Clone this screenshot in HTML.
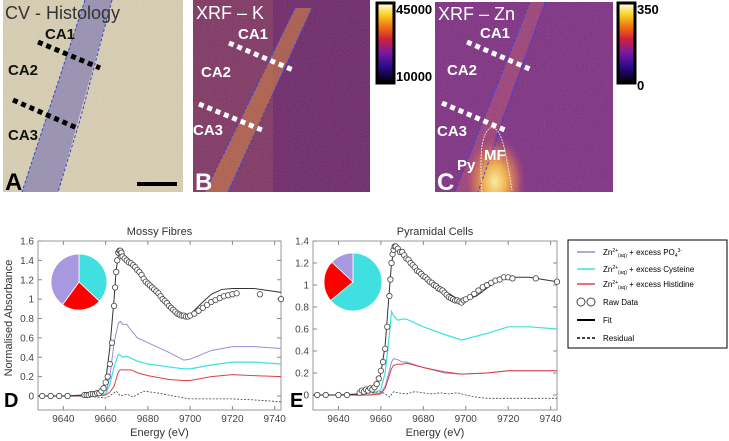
<!DOCTYPE html>
<html><head><meta charset="utf-8">
<style>
html,body{margin:0;padding:0;background:#fff;}
svg{display:block;font-family:"Liberation Sans",Arial,sans-serif;}
</style></head>
<body>
<svg id="fig" width="729" height="441" viewBox="0 0 729 441" xmlns="http://www.w3.org/2000/svg">
<defs>
<linearGradient id="cbar" x1="0" y1="1" x2="0" y2="0">
<stop offset="0" stop-color="#000"/><stop offset="0.2" stop-color="#2a0a8a"/><stop offset="0.38" stop-color="#7a1aa0"/>
<stop offset="0.55" stop-color="#d0203a"/><stop offset="0.7" stop-color="#f07010"/><stop offset="0.85" stop-color="#f8d020"/><stop offset="1" stop-color="#fffff0"/>
</linearGradient>
<radialGradient id="blob" cx="0.5" cy="0.6" r="0.5">
<stop offset="0" stop-color="#fff2a0"/><stop offset="0.35" stop-color="#f8b040"/><stop offset="0.7" stop-color="#d06050" stop-opacity="0.7"/><stop offset="1" stop-color="#8a2a80" stop-opacity="0"/>
</radialGradient>
<clipPath id="clipC"><rect x="435" y="2" width="178" height="190"/></clipPath>
<filter id="noise"><feTurbulence type="fractalNoise" baseFrequency="0.9" numOctaves="1" seed="3"/><feColorMatrix type="saturate" values="0"/><feComponentTransfer><feFuncA type="table" tableValues="0 0.25"/></feComponentTransfer><feComposite in2="SourceGraphic" operator="in"/></filter>
</defs>

<!-- Panel A -->
<g>
<rect x="3" y="0" width="180" height="192" fill="#d9cfb2"/>
<polygon points="85,0 112,0 58,192 22,192" fill="#8a84b0" opacity="0.85"/>
<polyline points="85,0 22,192" fill="none" stroke="#2233dd" stroke-dasharray="3,2" stroke-width="1"/>
<polyline points="112,0 80,120 58,192" fill="none" stroke="#2233dd" stroke-dasharray="3,2" stroke-width="1"/>
<rect x="3" y="0" width="180" height="192" fill="#fff" filter="url(#noise)"/>
<text x="5" y="19" font-size="18" fill="#333">CV - Histology</text>
<line x1="38" y1="42" x2="100" y2="68" stroke="#000" stroke-width="5" stroke-dasharray="5,4"/>
<line x1="13" y1="100" x2="77" y2="128" stroke="#000" stroke-width="5" stroke-dasharray="5,4"/>
<text x="45" y="39" font-size="15" font-weight="bold" fill="#111">CA1</text>
<text x="8" y="75" font-size="15" font-weight="bold" fill="#111">CA2</text>
<text x="8" y="140" font-size="15" font-weight="bold" fill="#111">CA3</text>
<line x1="137" y1="184" x2="177" y2="184" stroke="#000" stroke-width="4"/>
<text x="5" y="190" font-size="24" font-weight="bold" fill="#000">A</text>
</g>

<!-- Panel B -->
<g>
<rect x="193" y="0" width="177" height="192" fill="#6a2266"/>
<rect x="193" y="0" width="80" height="192" fill="#8a3a5a" opacity="0.6"/>
<polygon points="295,8 312,8 228,192 205,192" fill="#c06a40" opacity="0.75"/>
<polyline points="295,8 205,192" fill="none" stroke="#2233ee" stroke-dasharray="3,2"/>
<polyline points="312,8 228,192" fill="none" stroke="#2233ee" stroke-dasharray="3,2"/>
<rect x="193" y="0" width="177" height="192" fill="#fff" filter="url(#noise)"/>
<text x="196" y="19" font-size="18" fill="#fff">XRF – K</text>
<line x1="229" y1="43" x2="293" y2="70" stroke="#fff" stroke-width="5" stroke-dasharray="5,4"/>
<line x1="199" y1="104" x2="262" y2="130" stroke="#fff" stroke-width="5" stroke-dasharray="5,4"/>
<text x="238" y="39" font-size="15" font-weight="bold" fill="#fff">CA1</text>
<text x="201" y="77" font-size="15" font-weight="bold" fill="#fff">CA2</text>
<text x="193" y="135" font-size="15" font-weight="bold" fill="#fff">CA3</text>
<text x="195" y="190" font-size="24" font-weight="bold" fill="#fff">B</text>
</g>
<g>
<rect x="377" y="3" width="17" height="80" fill="url(#cbar)" stroke="#000" stroke-width="3"/>
<text x="396" y="14" font-size="13" font-weight="bold" fill="#000">45000</text>
<text x="396" y="81" font-size="13" font-weight="bold" fill="#000">10000</text>
</g>

<!-- Panel C -->
<g clip-path="url(#clipC)">
<rect x="435" y="2" width="178" height="190" fill="#7c2a80"/>
<polygon points="530,2 545,2 475,192 455,192" fill="#b04a70" opacity="0.6"/>
<ellipse cx="495" cy="172" rx="32" ry="48" fill="url(#blob)"/>
<polyline points="530,2 455,192" fill="none" stroke="#2233ee" stroke-dasharray="3,2"/>
<polyline points="545,2 478,192" fill="none" stroke="#2233ee" stroke-dasharray="3,2"/>
<path d="M482,192 C480,160 480,135 490,128 C502,125 505,150 512,190" fill="none" stroke="#fff" stroke-dasharray="2,1" stroke-width="0.8"/>
<rect x="435" y="2" width="178" height="190" fill="#fff" filter="url(#noise)"/>
<text x="438" y="20" font-size="18" fill="#fff">XRF – Zn</text>
<line x1="467" y1="42" x2="532" y2="70" stroke="#fff" stroke-width="5" stroke-dasharray="5,4"/>
<line x1="442" y1="103" x2="505" y2="130" stroke="#fff" stroke-width="5" stroke-dasharray="5,4"/>
<text x="480" y="38" font-size="15" font-weight="bold" fill="#fff">CA1</text>
<text x="447" y="75" font-size="15" font-weight="bold" fill="#fff">CA2</text>
<text x="437" y="136" font-size="15" font-weight="bold" fill="#fff">CA3</text>
<text x="457" y="170" font-size="15" font-weight="bold" fill="#fff">Py</text>
<text x="484" y="160" font-size="15" font-weight="bold" fill="#fff">MF</text>
<text x="437" y="190" font-size="24" font-weight="bold" fill="#fff">C</text>
</g>
<g>
<rect x="618" y="3" width="17" height="80" fill="url(#cbar)" stroke="#000" stroke-width="3"/>
<text x="637" y="14" font-size="13" font-weight="bold" fill="#000">350</text>
<text x="637" y="90" font-size="13" font-weight="bold" fill="#000">0</text>
</g>

<g id="charts"></g>

<!-- Legend -->
<g>
<rect x="568" y="240" width="159" height="108" fill="#fff" stroke="#000" stroke-width="1"/>
<g><line x1="577" y1="252" x2="595" y2="252" stroke="#9a8ad8" stroke-width="1.5"/><text x="603" y="255" font-size="8" fill="#000">Zn<tspan font-size="5" dy="-3">2+</tspan><tspan font-size="5" dy="5">(aq)</tspan><tspan dy="-2"> + excess PO</tspan><tspan font-size="5" dy="2">4</tspan><tspan font-size="5" dy="-5">3-</tspan></text></g>
<g><line x1="577" y1="269" x2="595" y2="269" stroke="#40e0e0" stroke-width="1.5"/><text x="603" y="272" font-size="8" fill="#000">Zn<tspan font-size="5" dy="-3">2+</tspan><tspan font-size="5" dy="5">(aq)</tspan><tspan dy="-2"> + excess Cysteine</tspan></text></g>
<g><line x1="577" y1="284" x2="595" y2="284" stroke="#e04040" stroke-width="1.5"/><text x="603" y="287" font-size="8" fill="#000">Zn<tspan font-size="5" dy="-3">2+</tspan><tspan font-size="5" dy="5">(aq)</tspan><tspan dy="-2"> + excess Histidine</tspan></text></g>
<g><circle cx="581" cy="302" r="4" fill="#fff" stroke="#444"/><circle cx="591" cy="302" r="4" fill="#fff" stroke="#444"/><text x="603" y="305" font-size="8" fill="#000">Raw Data</text></g>
<g><line x1="577" y1="320" x2="595" y2="320" stroke="#000" stroke-width="2"/><text x="603" y="323" font-size="8" fill="#000">Fit</text></g>
<g><line x1="577" y1="338" x2="595" y2="338" stroke="#000" stroke-width="1.5" stroke-dasharray="3,2"/><text x="603" y="341" font-size="8" fill="#000">Residual</text></g>
</g>
</svg>

<script>
// ---------- Chart data ----------
const xTicks = [9640, 9660, 9680, 9700, 9720, 9740];
const yTicksD = [0, 0.2, 0.4, 0.6, 0.8, 1, 1.2, 1.4, 1.6];
const yTicksE = [0, 0.2, 0.4, 0.6, 0.8, 1, 1.2, 1.4];

// Mossy Fibres (D)
const dFitE = [9628,9640,9650,9655,9658,9660,9662,9664,9665,9666,9667,9668,9670,9672,9675,9680,9685,9690,9695,9698,9700,9705,9710,9715,9720,9730,9743];
const dFitV = [0,0,0.01,0.02,0.05,0.15,0.5,1.0,1.3,1.45,1.5,1.47,1.41,1.37,1.32,1.19,1.08,0.96,0.86,0.83,0.84,0.95,1.05,1.10,1.11,1.11,1.07];
const dRawE = [9630,9634,9638,9642,9650,9651,9652,9653,9654,9655,9656,9657,9658,9659,9660,9661,9662,9663,9664,9664.5,9665,9665.5,9666,9666.5,9667,9667.5,9668,9669,9670,9671,9672,9673,9674,9675,9676,9677,9678,9679,9680,9681,9682,9683,9684,9685,9686,9687,9688,9689,9690,9691,9692,9693,9694,9695,9696,9697,9698,9699,9700,9702,9704,9706,9708,9710,9712,9714,9716,9718,9720,9722,9733,9743];
const dRawV = [0,0,0,0,0.01,0.01,0.01,0.02,0.02,0.02,0.03,0.03,0.05,0.08,0.14,0.2,0.33,0.55,0.93,1.12,1.28,1.4,1.48,1.5,1.5,1.48,1.44,1.42,1.40,1.38,1.37,1.35,1.33,1.30,1.28,1.25,1.21,1.18,1.16,1.14,1.12,1.10,1.08,1.06,1.03,1.0,0.98,0.96,0.93,0.91,0.89,0.87,0.85,0.84,0.83,0.83,0.82,0.82,0.83,0.85,0.88,0.91,0.94,0.97,0.99,1.01,1.03,1.04,1.05,1.06,1.05,1.0];
const dRefE = [9628,9655,9660,9662,9664,9666,9667,9668,9670,9672,9675,9680,9690,9697,9700,9710,9720,9730,9743];
const dPhos = [0,0,0.02,0.2,0.55,0.75,0.77,0.74,0.74,0.68,0.60,0.55,0.45,0.37,0.38,0.47,0.51,0.51,0.49];
const dCys  = [0,0,0.02,0.12,0.30,0.43,0.42,0.40,0.41,0.39,0.36,0.33,0.30,0.28,0.28,0.32,0.35,0.35,0.33];
const dHis  = [0,0,0.01,0.04,0.10,0.25,0.27,0.27,0.27,0.27,0.24,0.21,0.17,0.16,0.16,0.20,0.22,0.21,0.20];
const dResE = [9628,9650,9655,9660,9662,9665,9667,9670,9673,9678,9685,9692,9700,9710,9720,9730,9743];
const dResV = [0,0,-0.01,-0.02,0,0.05,0,0.02,-0.01,0.05,0.03,0,-0.03,-0.03,-0.03,-0.04,-0.06];
const dPie = [0.37, 0.23, 0.40]; // cysteine, histidine, phosphate

// Pyramidal Cells (E)
const eFitE = [9628,9640,9650,9655,9658,9660,9662,9664,9665,9666,9667,9668,9670,9675,9680,9690,9698,9705,9712,9718,9730,9743];
const eFitV = [0,0,0.01,0.03,0.08,0.2,0.45,0.95,1.2,1.3,1.35,1.34,1.30,1.20,1.10,0.95,0.85,0.90,1.00,1.07,1.07,1.03];
const eRawE = [9630,9634,9640,9644,9650,9651,9652,9653,9654,9655,9656,9657,9658,9659,9660,9661,9662,9663,9664,9664.5,9665,9665.5,9666,9666.5,9667,9668,9669,9670,9671,9672,9673,9674,9675,9676,9677,9678,9679,9680,9681,9682,9683,9684,9685,9686,9687,9688,9689,9690,9691,9692,9693,9694,9695,9696,9697,9698,9699,9700,9702,9704,9706,9708,9710,9712,9714,9716,9718,9720,9722,9733,9743];
const eRawV = [0,0,0,0,0.02,0.04,0.03,0.05,0.04,0.06,0.05,0.07,0.1,0.15,0.22,0.3,0.42,0.62,0.9,1.05,1.2,1.28,1.32,1.35,1.35,1.33,1.30,1.30,1.27,1.24,1.23,1.20,1.18,1.16,1.13,1.12,1.10,1.08,1.07,1.05,1.03,1.02,1.00,0.99,0.97,0.96,0.95,0.93,0.91,0.89,0.88,0.87,0.86,0.86,0.85,0.84,0.86,0.87,0.89,0.92,0.95,0.98,1.0,1.02,1.04,1.05,1.07,1.07,1.06,1.06,1.03];
const eRefE = [9628,9655,9660,9662,9664,9665,9666,9668,9670,9672,9680,9690,9698,9710,9720,9730,9743];
const ePhos = [0,0,0.02,0.08,0.22,0.3,0.33,0.32,0.30,0.30,0.25,0.20,0.19,0.20,0.22,0.22,0.22];
const eCys  = [0,0,0.05,0.2,0.55,0.76,0.72,0.68,0.69,0.69,0.62,0.55,0.50,0.56,0.62,0.62,0.60];
const eHis  = [0,0,0.01,0.06,0.18,0.24,0.27,0.28,0.28,0.29,0.25,0.21,0.19,0.20,0.22,0.22,0.22];
const eResE = [9628,9650,9655,9660,9662,9664,9666,9668,9672,9676,9680,9684,9688,9692,9696,9700,9705,9710,9720,9730,9743];
const eResV = [0,0,0.02,0.03,0.01,-0.02,0.03,0.02,0.01,0.03,0.02,0.01,0.02,0.01,0.02,0,-0.02,-0.03,-0.03,-0.03,-0.03];
const ePie = [0.64, 0.23, 0.13];

const NS = "http://www.w3.org/2000/svg";
const root = document.getElementById('charts');
function mk(tag, attrs, parent){ const e=document.createElementNS(NS,tag); for(const k in attrs) e.setAttribute(k,attrs[k]); (parent||root).appendChild(e); return e; }

function chart(cfg){
  const g = mk('g',{});
  
  
  const X = v => cfg.x0 + (v - 9628) / (9743 - 9628) * (cfg.x1 - cfg.x0);
  const Y = v => cfg.yZero - v / cfg.yMax * (cfg.yZero - cfg.yTop);
  const frame = mk('rect',{x:cfg.x0,y:cfg.yTop,width:cfg.x1-cfg.x0,height:cfg.yBot-cfg.yTop,fill:'none',stroke:'#999','stroke-width':1},g);
  
  
  for(let i=0;i<xTicks.length;i++){
    const t=xTicks[i], px=X(t);
    mk('line',{x1:px,y1:cfg.yBot,x2:px,y2:cfg.yBot-4,stroke:'#888'},g);
    mk('line',{x1:px,y1:cfg.yTop,x2:px,y2:cfg.yTop+4,stroke:'#888'},g);
    const lb=mk('text',{x:px,y:cfg.yBot+12,'font-size':10,fill:'#444','text-anchor':'middle'},g);
    lb.textContent=t;
    
    
  }
  for(let i=0;i<cfg.yTicks.length;i++){
    const t=cfg.yTicks[i], py=Y(t);
    mk('line',{x1:cfg.x0,y1:py,x2:cfg.x0+4,y2:py,stroke:'#888'},g);
    mk('line',{x1:cfg.x1,y1:py,x2:cfg.x1-4,y2:py,stroke:'#888'},g);
    if(cfg.showY){
      const lb=mk('text',{x:cfg.x0-4,y:py+3.5,'font-size':10,fill:'#444','text-anchor':'end'},g);
      lb.textContent=t;
      
      
    }
  }
  const line=(E,V,color,w,dash,name)=>{
    const p=mk('polyline',{points:E.map((e,i)=>X(e)+','+Y(V[i])).join(' '),fill:'none',stroke:color,'stroke-width':w},g);
    if(dash) p.setAttribute('stroke-dasharray',dash);
    
    
  };
  line(cfg.refE,cfg.phos,'#9a8ad8',1,null,'phosphate-line');
  line(cfg.refE,cfg.cys,'#40e0e0',1.2,null,'cysteine-line');
  line(cfg.refE,cfg.his,'#e04040',1,null,'histidine-line');
  line(cfg.resE,cfg.resV,'#444',0.8,'2,1.5','residual-line');
  line(cfg.fitE,cfg.fitV,'#333',1,null,'fit-line');
  for(let i=0;i<cfg.rawE.length;i++){
    const c=mk('circle',{cx:X(cfg.rawE[i]),cy:Y(cfg.rawV[i]),r:2.7,fill:'#fff',stroke:'#444','stroke-width':0.8},g);
    
    
  }
  // pie
  const cols=['#40e0e0','#ff0000','#a898e0'];
  let a=0;
  for(let i=0;i<cfg.pie.length;i++){
    const a2=a+cfg.pie[i]*2*Math.PI;
    const p1=[cfg.pcx+cfg.pr*Math.sin(a),cfg.pcy-cfg.pr*Math.cos(a)];
    const p2=[cfg.pcx+cfg.pr*Math.sin(a2),cfg.pcy-cfg.pr*Math.cos(a2)];
    const s=mk('path',{d:`M${cfg.pcx},${cfg.pcy} L${p1[0]},${p1[1]} A${cfg.pr},${cfg.pr} 0 ${a2-a>Math.PI?1:0} 1 ${p2[0]},${p2[1]} Z`,fill:cols[i],stroke:'#fff','stroke-width':0.8},g);
    
    
    a=a2;
  }
  const tt=mk('text',{x:(cfg.x0+cfg.x1)/2,y:235,'font-size':11,fill:'#333','text-anchor':'middle'},g);
  tt.textContent=cfg.title;
  
  
  const xl=mk('text',{x:(cfg.x0+cfg.x1)/2,y:436,'font-size':11,fill:'#333','text-anchor':'middle'},g);
  xl.textContent='Energy (eV)';
  
  
  const pl=mk('text',{x:cfg.letterX,y:407,'font-size':20,'font-weight':'bold',fill:'#000'},g);
  pl.textContent=cfg.letter;
  
  
}

chart({name:'mossy-fibres-chart',title:'Mossy Fibres',letter:'D',letterX:4,x0:38,x1:281,yTop:241,yBot:410,yZero:396,yMax:1.6,yTicks:yTicksD,showY:true,
  fitE:dFitE,fitV:dFitV,rawE:dRawE,rawV:dRawV,refE:dRefE,phos:dPhos,cys:dCys,his:dHis,resE:dResE,resV:dResV,pie:dPie,pcx:79,pcy:282,pr:28});
chart({name:'pyramidal-cells-chart',title:'Pyramidal Cells',letter:'E',letterX:290,x0:313,x1:557,yTop:241,yBot:410,yZero:395,yMax:1.4,yTicks:yTicksE,showY:true,
  fitE:eFitE,fitV:eFitV,rawE:eRawE,rawV:eRawV,refE:eRefE,phos:ePhos,cys:eCys,his:eHis,resE:eResE,resV:eResV,pie:ePie,pcx:353,pcy:282,pr:29});

const yl=mk('text',{x:0,y:0,'font-size':11,fill:'#333','text-anchor':'middle',transform:'translate(12,318) rotate(-90)'});
yl.textContent='Normalised Absorbance';


</script>
</body></html>
